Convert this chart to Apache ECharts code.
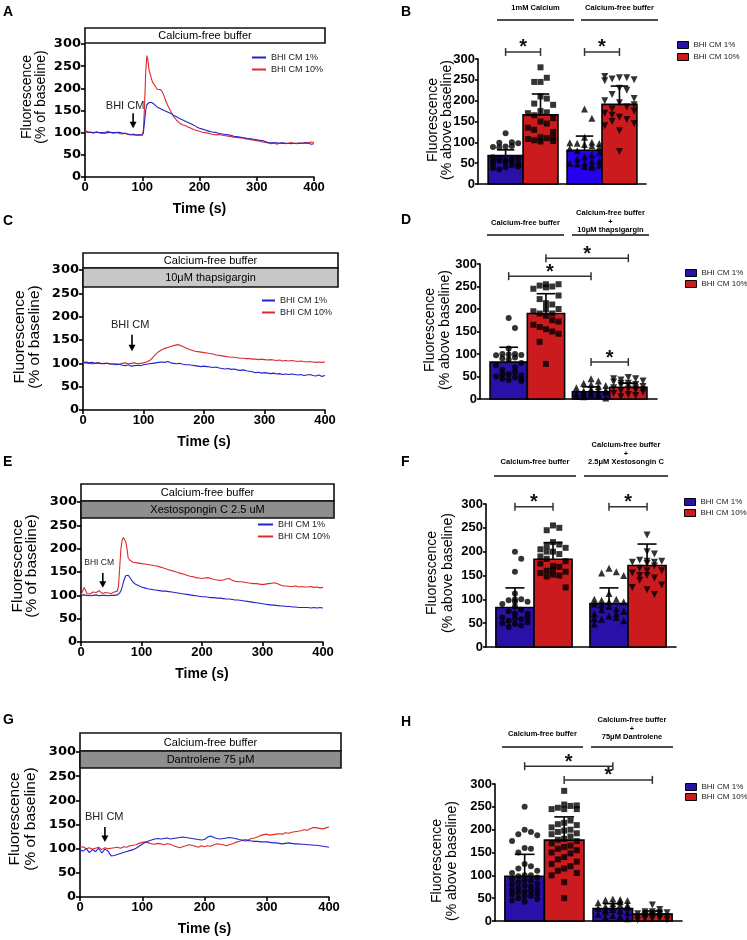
<!DOCTYPE html>
<html>
<head>
<meta charset="utf-8">
<title>BHI CM calcium responses</title>
<script src="https://cdn.jsdelivr.net/npm/echarts@6.0.0/dist/echarts.min.js"></script>
<style>
html,body{margin:0;padding:0;background:#fff;}
#chart{width:747px;height:940px;}
</style>
</head>
<body>
<div id="chart"></div>
<script>
// ================= DATA =================
const seriesNames = ['BHI CM 1%', 'BHI CM 10%'];

// ---- Panel A: time course, Calcium-free buffer ----
const tA = [0,5,10,15,20,25,30,35,40,45,50,55,60,65,70,75,80,85,90,95,100,102,104,106,108,110,112,114,116,118,120,123,126,129,132,135,138,141,145,150,155,160,165,170,175,180,185,190,195,200,205,210,215,220,225,230,235,240,245,250,255,260,265,270,275,280,285,290,295,300,305,310,315,320,325,330,335,340,345,350,355,360,365,370,375,380,385,390,395,400];
const blueA = [104,102,101,100,101,100,100,99,100,101,100,100,101,99,98,97,96,95,95,94,95,
  100,125,150,163,167,168,167,168,166,165,
  162,158,156,154,152,150,148,
  146,143,139,136,132,129,126,123,120,117,113,110,108,106,104,102,101,100,98,97,96,95,94,92,91,90,89,88,87,86,85,84,83,82,80,78,77,77,77,76,77,76,76,75,76,76,76,76,77,76,74,75];
const redA = [103,100,101,99,102,100,98,101,103,100,99,101,98,97,99,96,95,97,94,96,95,
  105,160,235,274,262,240,232,222,214,210,
  204,198,199,197,192,183,172,
  160,148,136,128,122,118,116,113,110,107,105,103,101,100,99,97,96,95,96,94,93,92,91,90,89,88,88,86,85,84,83,82,81,79,78,77,75,77,74,76,77,75,76,78,76,75,77,76,78,77,79,78];

// ---- common 5 s time grid (panels C and G) ----
const t5 = [0,5,10,15,20,25,30,35,40,45,50,55,60,65,70,75,80,85,90,95,100,105,110,115,120,125,130,135,140,145,150,155,160,165,170,175,180,185,190,195,200,205,210,215,220,225,230,235,240,245,250,255,260,265,270,275,280,285,290,295,300,305,310,315,320,325,330,335,340,345,350,355,360,365,370,375,380,385,390,395,400];

// ---- Panel C: 10 uM thapsigargin ----
const blueC = [102,103,101,102,100,101,99,100,100,99,98,
  97,98,96,95,97,94,95,96,95,97,
  98,99,100,101,102,103,102,104,101,100,
  99,100,98,97,97,96,95,94,93,94,
  93,92,91,92,90,89,88,89,87,88,
  86,85,86,84,83,82,80,81,79,80,
  79,78,79,77,78,76,77,76,77,76,
  75,76,74,75,76,74,73,75,72,74];
const redC = [100,101,100,99,100,101,100,99,100,98,99,
  99,98,100,101,99,100,101,99,100,101,
  103,106,112,119,125,129,132,134,136,138,
  140,139,136,133,130,128,126,125,124,123,
  122,121,120,118,117,116,115,114,113,113,
  112,111,111,110,110,109,109,108,109,108,
  107,108,107,106,107,105,106,105,106,105,
  104,105,104,103,104,103,102,103,102,103];

// ---- Panel E: Xestospongin C ----
const tE = [0,5,10,15,20,25,30,35,40,45,50,55,60,62,64,66,68,70,72,74,76,78,80,82,84,86,88,90,95,100,105,110,115,120,125,130,135,140,145,150,155,160,165,170,175,180,185,190,195,200,205,210,215,220,225,230,235,240,245,250,255,260,265,270,275,280,285,290,295,300,305,310,315,320,325,330,335,340,345,350,355,360,365,370,375,380,385,390,395,400];
const blueE = [100,101,100,99,100,101,99,100,100,99,100,100,101,
  102,105,110,118,128,136,142,145,143,140,136,132,128,126,124,
  121,118,116,114,113,112,111,110,109,109,108,107,106,105,104,103,102,101,100,99,98,97,97,96,95,95,94,94,93,92,92,91,90,90,89,88,87,86,85,84,83,82,81,80,79,79,78,77,77,76,76,75,75,74,74,74,74,73,74,73,74,73];
const redE = [100,117,104,103,107,106,110,104,106,105,104,107,109,
  120,160,200,218,224,222,215,200,180,176,174,172,171,170,170,
  169,168,167,166,165,164,163,161,159,157,155,153,151,149,147,145,143,141,140,138,137,136,137,138,136,134,133,132,133,135,136,132,130,129,129,128,127,126,125,125,124,123,124,125,126,127,125,122,120,120,119,119,120,118,119,118,118,119,117,118,116,117];

// ---- Panel G: Dantrolene ----
const blueG = [97,95,100,92,98,94,101,91,99,95,85,
  86,88,90,92,94,96,98,101,105,109,
  113,116,118,120,121,120,121,122,120,121,
  122,123,124,123,122,121,120,119,118,119,
  124,126,123,121,120,121,122,123,122,121,
  119,118,116,117,116,115,115,114,114,114,
  113,112,112,111,110,111,112,111,110,110,
  109,109,108,108,107,107,106,105,104,103];
const redG = [103,104,100,102,99,101,103,98,102,100,101,
  102,103,101,104,103,106,107,108,111,113,
  114,112,110,109,111,110,108,110,109,106,
  104,102,104,106,108,107,105,103,106,104,
  106,105,108,110,109,108,106,108,110,113,
  115,117,119,118,121,122,124,127,129,130,
  128,129,130,131,130,133,132,134,135,136,
  137,139,138,141,144,143,142,141,143,145];

// "BHI CM" addition arrows: [time, arrowTop, arrowTip, labelTime, labelY]
const arrowA = [84, 144, 110, 70, 160];
const arrowC = [81, 161, 126, 78, 182];
const arrowE = [36, 148, 116, 30, 171];
const arrowG = [40, 145, 114, 39, 166];

// ---- Bar panels: means, SD, individual cells ----
// order: [BHI CM 1% grp1, BHI CM 10% grp1, BHI CM 1% grp2, BHI CM 10% grp2]
const meansB = [68, 166, 81, 191];
const sdB = [14, 50, 34, 44];
const ptsB = [
  [122,100,99,98,90,89,91,88,62,60,58,57,55,62,64,50,45,40,38,55,52,48,35,42],
  [280,255,245,245,210,205,193,190,175,172,170,165,158,150,145,135,130,125,112,110,108,105,103,102,112],
  [180,158,112,100,98,97,99,95,92,85,80,75,65,55,50,48,45,42,40,45,50,55,60,70,88],
  [255,255,252,250,248,258,230,225,215,205,200,195,185,180,175,170,160,155,150,145,140,128,78,165,190]
];
const sigB = [[0,1,317],[2,3,317]];
const groupsB = ['1mM Calcium', 'Calcium-free buffer'];

const meansD = [82, 190, 16, 26];
const sdD = [33, 44, 11, 9];
const ptsD = [
  [180,158,112,100,100,98,97,99,92,90,88,80,75,70,65,55,52,50,48,45,42,40,45,55,60],
  [255,250,252,255,245,248,230,222,213,210,200,195,190,185,175,172,165,160,155,150,145,127,78,190,200],
  [45,40,35,30,25,22,20,18,15,12,10,8,5,2,15,20,10,6,28,32,12,14],
  [48,45,42,40,38,35,32,30,28,25,22,20,18,15,12,10,8,5,30,35,25,20,45]
];
const sigD = [[0,2,273],[1,3,313],[2,3,82]];
const groupsD = ['Calcium-free buffer', 'Calcium-free buffer\n+\n10μM thapsigargin'];

const meansF = [83, 184, 91, 171];
const sdF = [41, 35, 33, 45];
const ptsF = [
  [200,185,158,112,100,98,95,90,85,78,75,70,62,60,58,55,52,50,48,45,42,62,70,100,95],
  [255,250,245,220,215,212,208,205,200,195,185,180,175,170,168,160,158,155,152,150,148,125,190,200,162],
  [165,158,155,150,112,100,98,95,90,85,80,78,75,70,65,62,58,55,48,70,88,95,100,60],
  [235,200,195,182,180,178,175,170,165,160,155,150,145,140,130,125,120,110,150,160,178,180]
];
const sigF = [[0,1,294],[2,3,294]];
const groupsF = ['Calcium-free buffer', 'Calcium-free buffer\n+\n2.5μM Xestosongin C'];

const meansH = [98, 177, 27, 15];
const sdH = [48, 51, 11, 7];
const ptsH = [
  [250,200,195,190,188,175,160,158,150,65,55,125,120,115,110,105,100,100,98,95,92,90,88,85,82,80,78,75,72,70,68,65,62,60,58,55,50,48,45,42],
  [285,255,252,248,245,245,245,253,220,215,212,210,205,200,198,195,192,190,185,180,178,175,170,165,162,158,155,150,148,140,135,130,125,120,115,110,105,100,85,50],
  [48,47,46,45,40,38,35,32,30,28,25,22,20,18,15,12,10,8,5,30,25,42,35],
  [35,25,20,18,16,15,14,12,10,9,8,6,5,3,2,15,12,10,20,18,8,5]
];
const sigH = [[0,2,339],[1,3,309]];
const groupsH = ['Calcium-free buffer', 'Calcium-free buffer\n+\n75μM Dantrolene'];

// ================= STYLE / LAYOUT =================
const FONT = '"Liberation Sans", Arial, sans-serif';
const BLUE_LINE = '#2424c8', RED_LINE = '#de2a2a';
const BLUE_BAR = '#2910a8', BLUE_BAR2 = '#2400ee', RED_BAR = '#cc1b1f';

const timePanels = [
  {letter:'A', lx:3, ly:12, grid:{left:85, top:44, width:229, height:133}, t:tA, blue:blueA, red:redA, arrow:arrowA, arrowFont:11,
   legend:{left:252, top:53, w:14}, boxes:[{x:85,y:28,w:240,h:15,fill:'#fff',text:'Calcium-free buffer'}],
   title:{x1:27, x2:41, y:97, size:14}},
  {letter:'C', lx:3, ly:221, grid:{left:83, top:270, width:242, height:140}, t:t5, blue:blueC, red:redC, arrow:arrowC, arrowFont:11,
   legend:{left:262, top:296, w:13}, boxes:[{x:83,y:253,w:255,h:15,fill:'#fff',text:'Calcium-free buffer'},{x:83,y:268,w:255,h:19,fill:'#c8c8c8',text:'10μM thapsigargin'}],
   title:{x1:20, x2:35, y:337, size:15.5}},
  {letter:'E', lx:3, ly:462, grid:{left:81, top:502, width:242, height:140}, t:tE, blue:blueE, red:redE, arrow:arrowE, arrowFont:8.5,
   legend:{left:258, top:520, w:15}, boxes:[{x:81,y:484,w:253,h:17,fill:'#fff',text:'Calcium-free buffer'},{x:81,y:501,w:253,h:17,fill:'#8e8e8e',text:'Xestospongin C 2.5 uM'}],
   title:{x1:17.5, x2:32, y:566, size:15.5}},
  {letter:'G', lx:3, ly:720, grid:{left:80, top:752, width:249, height:145}, t:t5, blue:blueG, red:redG, arrow:arrowG, arrowFont:11,
   legend:null, boxes:[{x:80,y:733,w:261,h:18,fill:'#fff',text:'Calcium-free buffer'},{x:80,y:751,w:261,h:17,fill:'#8e8e8e',text:'Dantrolene 75 μM'}],
   title:{x1:15, x2:31, y:819, size:15.5}}
];

const barPanels = [
  {letter:'B', lx:401, ly:12, grid:{left:478, top:59, width:168, height:125}, xmin:-0.29, xmax:4.52, gap:0.26,
   means:meansB, sd:sdB, pts:ptsB, sig:sigB, groups:groupsB, colors:[BLUE_BAR, RED_BAR, BLUE_BAR2, RED_BAR],
   legend:{left:677, top:40, gap:2}, title:{x1:433, x2:447, y:120},
   head:{lineY:20, lines:[[497,574],[581,658]], textY:[8,8], stackBottom:8}},
  {letter:'D', lx:401, ly:220, grid:{left:480, top:264, width:177, height:135}, xmin:-0.27, xmax:4.48, gap:0.21,
   means:meansD, sd:sdD, pts:ptsD, sig:sigD, groups:groupsD, colors:[BLUE_BAR, RED_BAR, BLUE_BAR, RED_BAR],
   legend:{left:685, top:268, gap:1}, title:{x1:430, x2:445, y:330},
   head:{lineY:235, lines:[[487,564],[572,649]], stackBottom:230, single:223}},
  {letter:'F', lx:401, ly:462, grid:{left:486, top:504, width:190, height:143}, xmin:-0.26, xmax:4.73, gap:0.47,
   means:meansF, sd:sdF, pts:ptsF, sig:sigF, groups:groupsF, colors:[BLUE_BAR, RED_BAR, BLUE_BAR, RED_BAR],
   legend:{left:684, top:497, gap:1}, title:{x1:432, x2:448, y:573},
   head:{lineY:476, lines:[[494,576],[584,668]], stackBottom:462, single:462}},
  {letter:'H', lx:401, ly:722, grid:{left:495, top:784, width:187, height:137}, xmin:-0.25, xmax:4.48, gap:0.23,
   means:meansH, sd:sdH, pts:ptsH, sig:sigH, groups:groupsH, colors:[BLUE_BAR, RED_BAR, BLUE_BAR, RED_BAR],
   legend:{left:685, top:782, gap:0}, title:{x1:437, x2:452, y:861},
   head:{lineY:747, lines:[[502,583],[591,673]], stackBottom:737, single:734}}
];

const SYMBOLS = [
  {symbol:'circle', size:6, rot:0},
  {symbol:'rect', size:6, rot:0},
  {symbol:'triangle', size:7, rot:0},
  {symbol:'triangle', size:7, rot:180}
];

// ================= HELPERS =================
function txt(x, y, text, font, align, vAlign, rot, fill) {
  return {type:'text', x:x, y:y, rotation:rot || 0, z:20, silent:true,
    style:{text:text, font:font, textAlign:align || 'center', textVerticalAlign:vAlign || 'middle', fill:fill || '#000'}};
}
// spread overlapping cells sideways (scatter dot plot layout)
function swarm(vals, pxX, pxY, size, halfW) {
  const placed = [], out = [];
  const step = (size * 1.05) / pxX;
  const maxK = Math.max(1, Math.floor(halfW / step));
  const ry = size * 2.2;
  vals.forEach(v => {
    let best = 0, bestD = -1;
    for (let k = 0; k <= maxK * 2; k++) {
      const m = k === 0 ? 0 : (k % 2 ? Math.ceil(k / 2) : -k / 2);
      const off = m * step;
      let minD = Infinity;
      placed.forEach(p => {
        const d = Math.hypot((off - p[0]) * pxX / size, (v - p[1]) * pxY / ry);
        if (d < minD) minD = d;
      });
      if (minD >= 1) { best = off; bestD = minD; break; }
      if (minD > bestD) { bestD = minD; best = off; }
    }
    placed.push([best, v]); out.push(best);
  });
  return out;
}

const grids = [], xAxes = [], yAxes = [], series = [], legends = [], graphics = [];
const axisLineStyle = {color:'#000', width:1.6};

// ================= TIME-COURSE PANELS =================
timePanels.forEach((p, i) => {
  const gi = grids.length;
  grids.push(Object.assign({containLabel:false}, p.grid));
  xAxes.push({type:'value', gridIndex:gi, min:0, max:400, interval:100,
    name:'Time (s)', nameLocation:'middle', nameGap:25,
    nameTextStyle:{fontFamily:FONT, fontWeight:'bold', fontSize:14, color:'#000'},
    axisLine:{show:true, onZero:false, lineStyle:axisLineStyle},
    axisTick:{show:true, length:4, lineStyle:axisLineStyle},
    axisLabel:{fontFamily:FONT, fontWeight:'bold', fontSize:13, color:'#000', margin:4},
    splitLine:{show:false}});
  yAxes.push({type:'value', gridIndex:gi, min:0, max:300, interval:50,
    axisLine:{show:true, onZero:false, lineStyle:axisLineStyle},
    axisTick:{show:true, length:4, lineStyle:axisLineStyle},
    axisLabel:{fontFamily:'"DejaVu Sans", sans-serif', fontWeight:'bold', fontSize:13, color:'#000', margin:4},
    splitLine:{show:false}});
  series.push({name:seriesNames[0], type:'line', xAxisIndex:gi, yAxisIndex:gi, showSymbol:false, symbol:'none',
    lineStyle:{color:BLUE_LINE, width:1.1}, itemStyle:{color:BLUE_LINE}, z:3,
    data:p.t.map((t, k) => [t, p.blue[k]])});
  series.push({name:seriesNames[1], type:'line', xAxisIndex:gi, yAxisIndex:gi, showSymbol:false, symbol:'none',
    lineStyle:{color:RED_LINE, width:1.1}, itemStyle:{color:RED_LINE}, z:2,
    data:p.t.map((t, k) => [t, p.red[k]])});
  const af = p.arrowFont;
  series.push({name:'arrow', type:'custom', xAxisIndex:gi, yAxisIndex:gi, clip:false, silent:true, z:5,
    data:[p.arrow],
    renderItem:(params, api) => {
      const top = api.coord([api.value(0), api.value(1)]);
      const tip = api.coord([api.value(0), api.value(2)]);
      const lab = api.coord([api.value(3), api.value(4)]);
      return {type:'group', children:[
        {type:'line', shape:{x1:top[0], y1:top[1], x2:tip[0], y2:tip[1] - 5}, style:{stroke:'#000', lineWidth:1.6}},
        {type:'polygon', shape:{points:[[tip[0] - 3.5, tip[1] - 6.5], [tip[0] + 3.5, tip[1] - 6.5], [tip[0], tip[1]]]}, style:{fill:'#000'}},
        {type:'text', x:lab[0], y:lab[1], style:{text:'BHI CM', font:af + 'px ' + FONT, textAlign:'center', textVerticalAlign:'middle', fill:'#222'}}
      ]};
    }});
  if (p.legend) {
    legends.push({orient:'vertical', left:p.legend.left, top:p.legend.top, itemWidth:p.legend.w, itemHeight:2, itemGap:3,
      padding:0, icon:'rect', selectedMode:false,
      textStyle:{fontFamily:FONT, fontSize:9, color:'#222'},
      data:[{name:seriesNames[0], itemStyle:{color:BLUE_LINE, borderWidth:0}}, {name:seriesNames[1], itemStyle:{color:RED_LINE, borderWidth:0}}]});
  }
  p.boxes.forEach(b => {
    graphics.push({type:'rect', z:10, silent:true, shape:{x:b.x, y:b.y, width:b.w, height:b.h},
      style:{fill:b.fill, stroke:'#111', lineWidth:1.6}});
    graphics.push(txt(b.x + b.w / 2, b.y + b.h / 2 + 0.5, b.text, '11px ' + FONT));
  });
  graphics.push(txt(p.lx, p.ly, p.letter, 'bold 14px ' + FONT, 'left'));
  graphics.push(txt(p.title.x1, p.title.y, 'Fluorescence', p.title.size + 'px ' + FONT, 'center', 'middle', Math.PI / 2));
  graphics.push(txt(p.title.x2, p.title.y, '(% of baseline)', p.title.size + 'px ' + FONT, 'center', 'middle', Math.PI / 2));
});

// ================= BAR PANELS =================
barPanels.forEach(p => {
  const gi = grids.length;
  grids.push(Object.assign({containLabel:false}, p.grid));
  xAxes.push({type:'value', gridIndex:gi, min:p.xmin, max:p.xmax,
    axisLine:{show:true, onZero:false, lineStyle:axisLineStyle},
    axisTick:{show:false}, axisLabel:{show:false}, splitLine:{show:false}});
  yAxes.push({type:'value', gridIndex:gi, min:0, max:300, interval:50,
    axisLine:{show:true, onZero:false, lineStyle:axisLineStyle},
    axisTick:{show:true, length:3, lineStyle:axisLineStyle},
    axisLabel:{fontFamily:FONT, fontWeight:'bold', fontSize:13, color:'#000', margin:3},
    splitLine:{show:false}});
  const centers = [0.5, 1.5, 2.5 + p.gap, 3.5 + p.gap];
  const pxX = p.grid.width / (p.xmax - p.xmin), pxY = p.grid.height / 300;
  // bars + error bars
  centers.forEach((c, k) => {
    const col = p.colors[k];
    series.push({name:seriesNames[k % 2], type:'custom', xAxisIndex:gi, yAxisIndex:gi, clip:false, z:2,
      itemStyle:{color:col},
      data:[[c, p.means[k], p.sd[k]]],
      renderItem:(params, api) => {
        const x = api.value(0), m = api.value(1), s = api.value(2);
        const tl = api.coord([x - 0.5, m]), br = api.coord([x + 0.5, 0]);
        const et = api.coord([x, m + s]);
        const cl = api.coord([x - 0.25, m + s]), cr = api.coord([x + 0.25, m + s]);
        return {type:'group', children:[
          {type:'rect', shape:{x:tl[0], y:tl[1], width:br[0] - tl[0], height:br[1] - tl[1]}, style:{fill:col, stroke:'#000', lineWidth:1.6}},
          {type:'line', shape:{x1:et[0], y1:tl[1], x2:et[0], y2:et[1]}, style:{stroke:'#000', lineWidth:1.6}},
          {type:'line', shape:{x1:cl[0], y1:et[1], x2:cr[0], y2:et[1]}, style:{stroke:'#000', lineWidth:1.6}}
        ]};
      }});
  });
  // individual cells
  centers.forEach((c, k) => {
    const sy = SYMBOLS[k];
    const offs = swarm(p.pts[k], pxX, pxY, sy.size, 0.44);
    series.push({name:seriesNames[k % 2] + ' cells', type:'scatter', xAxisIndex:gi, yAxisIndex:gi, z:4,
      symbol:sy.symbol, symbolSize:sy.size, symbolRotate:sy.rot, silent:true,
      itemStyle:{color:'#000'},
      data:p.pts[k].map((v, j) => [c + offs[j], v])});
  });
  // significance brackets
  series.push({name:'significance', type:'custom', xAxisIndex:gi, yAxisIndex:gi, clip:false, silent:true, z:6,
    data:p.sig.map(s => [centers[s[0]], centers[s[1]], s[2]]),
    renderItem:(params, api) => {
      const a = api.coord([api.value(0), api.value(2)]), b = api.coord([api.value(1), api.value(2)]);
      const st = {stroke:'#333', lineWidth:1.5};
      return {type:'group', children:[
        {type:'line', shape:{x1:a[0], y1:a[1], x2:b[0], y2:b[1]}, style:st},
        {type:'line', shape:{x1:a[0], y1:a[1] - 4, x2:a[0], y2:a[1] + 4}, style:st},
        {type:'line', shape:{x1:b[0], y1:b[1] - 4, x2:b[0], y2:b[1] + 4}, style:st},
        {type:'text', x:(a[0] + b[0]) / 2, y:a[1] - 4, style:{text:'*', font:'bold 20px ' + FONT, textAlign:'center', textVerticalAlign:'middle', fill:'#111'}}
      ]};
    }});
  legends.push({orient:'vertical', left:p.legend.left, top:p.legend.top, itemWidth:11, itemHeight:7, itemGap:p.legend.gap,
    padding:0, icon:'rect', selectedMode:false,
    textStyle:{fontFamily:FONT, fontSize:8, color:'#222', lineHeight:10},
    data:[{name:seriesNames[0], itemStyle:{color:BLUE_BAR, borderColor:'#000', borderWidth:1}},
          {name:seriesNames[1], itemStyle:{color:RED_BAR, borderColor:'#000', borderWidth:1}}]});
  // group headers
  const h = p.head;
  h.lines.forEach((ln, k) => {
    graphics.push({type:'line', silent:true, z:10, shape:{x1:ln[0], y1:h.lineY, x2:ln[1], y2:h.lineY}, style:{stroke:'#111', lineWidth:1.6}});
    const label = p.groups[k].split('\n');
    const cx = (ln[0] + ln[1]) / 2;
    if (label.length === 1) {
      const y = (h.single !== undefined && k === 0) ? h.single : h.stackBottom;
      graphics.push(txt(cx, y, label[0], 'bold 7.5px ' + FONT));
    } else {
      const pitch = 8.5;
      label.forEach((s, j) => {
        graphics.push(txt(cx, h.stackBottom - (label.length - 1 - j) * pitch, s, 'bold 7.5px ' + FONT));
      });
    }
  });
  graphics.push(txt(p.lx, p.ly, p.letter, 'bold 14px ' + FONT, 'left'));
  graphics.push(txt(p.title.x1, p.title.y, 'Fluorescence', '14px ' + FONT, 'center', 'middle', Math.PI / 2));
  graphics.push(txt(p.title.x2, p.title.y, '(% above baseline)', '14px ' + FONT, 'center', 'middle', Math.PI / 2));
});

const chart = echarts.init(document.getElementById('chart'), null, {renderer:'canvas', width:747, height:940});
chart.setOption({
  animation:false,
  backgroundColor:'#fff',
  grid:grids,
  xAxis:xAxes,
  yAxis:yAxes,
  legend:legends,
  series:series,
  graphic:{elements:graphics}
});
</script>
</body>
</html>
